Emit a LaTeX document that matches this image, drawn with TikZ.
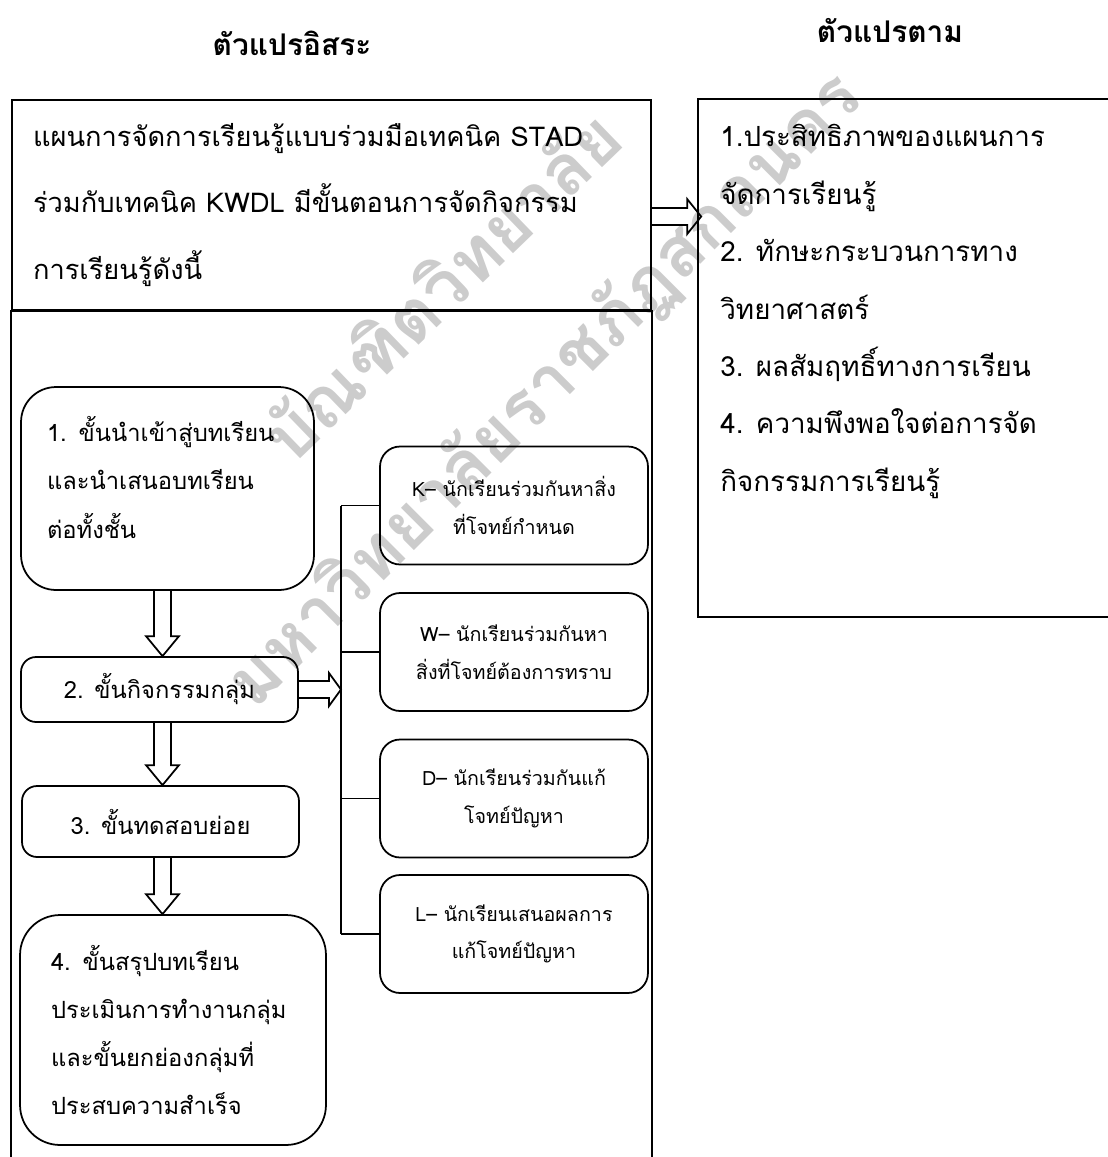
\documentclass[tikz,border=0pt]{standalone}
\usepackage{fontspec}
\setmainfont[Script=Thai]{Loma}
\usetikzlibrary{calc}
\def\blockdown(#1)(#2){\draw[blockarrow] ($(ax |- #1.south)+(-8.5,0)$) -- ($(ax |- #2.north)+(-8.5,-20)$) -- ($(ax |- #2.north)+(-16.5,-20)$) -- (ax |- #2.north) -- ($(ax |- #2.north)+(16.5,-20)$) -- ($(ax |- #2.north)+(8.5,-20)$) -- ($(ax |- #1.south)+(8.5,0)$);}
\def\blockright(#1)(#2)(#3:#4){\draw[blockarrow] ($(#1)+(0,-8.5)$) -- ($(#2)+(-#3,-8.5)$) -- ($(#2)+(-#3,-#4)$) -- (#2) -- ($(#2)+(-#3,#4)$) -- ($(#2)+(-#3,8.5)$) -- ($(#1)+(0,8.5)$);}

\begin{document}
\begin{tikzpicture}[x=0.02cm, y=-0.02cm,
	head/.style={font=\bfseries\fontsize{17pt}{20pt}\selectfont},
	wmtext/.style={font=\bfseries\fontsize{40pt}{40pt}\selectfont, color=black!20},
	planbox/.style={draw, line width=1pt, minimum width=12.78cm, minimum height=4.2cm, inner xsep=0.42cm, text width=11.94cm, align=left, font=\fontsize{15.5pt}{37.6pt}\selectfont},
	frameline/.style={line width=1pt},
	outbox/.style={draw, line width=1pt, minimum width=8.44cm, minimum height=10.36cm},
	outtext/.style={inner sep=0pt, align=left, font=\fontsize{15.8pt}{32.7pt}\selectfont},
	bigstep/.style={draw, line width=1pt, rounded corners=0.7cm, inner xsep=0.52cm, align=left, font=\fontsize{13.5pt}{27.5pt}\selectfont},
	smallstep/.style={draw, line width=1pt, rounded corners=0.3cm, minimum width=5.54cm, align=center, font=\fontsize{13.5pt}{27.5pt}\selectfont},
	kwdl/.style={draw, line width=1pt, rounded corners=0.4cm, minimum width=5.36cm, minimum height=2.36cm, align=center, font=\fontsize{11.2pt}{21.5pt}\selectfont},
	link/.style={line width=1pt},
	blockarrow/.style={line width=1pt, line join=miter}]
		\useasboundingbox (0, 0) rectangle (1107, 1157);
		
		%%%%% WATERMARK %%%%%
		\node[wmtext, rotate=44] (wmgrad) at (440, 285) {บัณฑิตวิทยาลัย};
		\node[wmtext, rotate=45] (wmuniv) at (545, 390) {มหาวิทยาลัยราชภัฏสกลนคร};
		
		%%%%% HEADINGS %%%%%
		\node[head] (indep) at (292, 43) {ตัวแปรอิสระ};
		\node[head] (dep) at (890, 31) {ตัวแปรตาม};
		
		%%%%% LEFT FRAME %%%%%
		\node[planbox] (plan) at (331.5, 205) {แผนการจัดการเรียนรู้แบบร่วมมือเทคนิค STAD\\ร่วมกับเทคนิค KWDL มีขั้นตอนการจัดกิจกรรม\\การเรียนรู้ดังนี้};
		\draw[frameline] (plan.south west) rectangle ($(plan.south east)+(0, 880)$);
		
		%%%%% OUTCOMES %%%%%
		\node[outbox] (outcome) at (909, 358) {};
		\node[outtext, anchor=north west] (outlist) at (720, 124) {1.ประสิทธิภาพของแผนการ\\จัดการเรียนรู้\\2. ทักษะกระบวนการทาง\\วิทยาศาสตร์\\3. ผลสัมฤทธิ์ทางการเรียน\\4. ความพึงพอใจต่อการจัด\\กิจกรรมการเรียนรู้};
		
		\coordinate (planout) at ($(plan.east)+(0, 11.5)$);
		\coordinate (outin) at ($(outcome.west |- planout)+(4, 0)$);
		\blockright(planout)(outin)(14:17.5)
		
		%%%%% STEPS %%%%%
		\coordinate (ax) at (162.5, 0);
		\node[bigstep, minimum width=5.86cm, minimum height=4.06cm, text width=4.82cm, text depth=2.38cm] (stepa) at (167.5, 488.5) {1. ขั้นนำเข้าสู่บทเรียน\\และนำเสนอบทเรียน\\ต่อทั้งชั้น};
		\node[smallstep, minimum height=1.3cm] (stepb) at (159.5, 689.5) {2. ขั้นกิจกรรมกลุ่ม};
		\node[smallstep, minimum height=1.42cm] (stepc) at (160.5, 821.5) {3. ขั้นทดสอบย่อย};
		\node[bigstep, rounded corners=0.8cm, minimum width=6.12cm, minimum height=4.6cm, inner xsep=0.62cm, text width=4.88cm] (stepd) at (173, 1030) {4. ขั้นสรุปบทเรียน\\ประเมินการทำงานกลุ่ม\\และขั้นยกย่องกลุ่มที่\\ประสบความสำเร็จ};
		
		\blockdown(stepa)(stepb)
		\blockdown(stepb)(stepc)
		\blockdown(stepc)(stepd)
		
		%%%%% KWDL %%%%%
		\coordinate (trunk) at (341, 0);
		\node[kwdl] (kbox) at (514, 505.5) {K– นักเรียนร่วมกันหาสิ่ง\\ที่โจทย์กำหนด};
		\node[kwdl] (wbox) at (514, 652) {W– นักเรียนร่วมกันหา\\สิ่งที่โจทย์ต้องการทราบ};
		\node[kwdl] (dbox) at (514, 798.5) {D– นักเรียนร่วมกันแก้\\โจทย์ปัญหา};
		\node[kwdl] (lbox) at (514, 934) {L– นักเรียนเสนอผลการ\\แก้โจทย์ปัญหา};
		
		\draw[link] (trunk |- kbox.west) -- (trunk |- lbox.west);
		\foreach \n in {kbox, wbox, dbox, lbox}
			\draw[link] (trunk |- \n.west) -- (\n.west);
		
		\blockright(stepb.east)(trunk |- stepb.east)(12:16.5)
		
	\end{tikzpicture}
\end{document}
